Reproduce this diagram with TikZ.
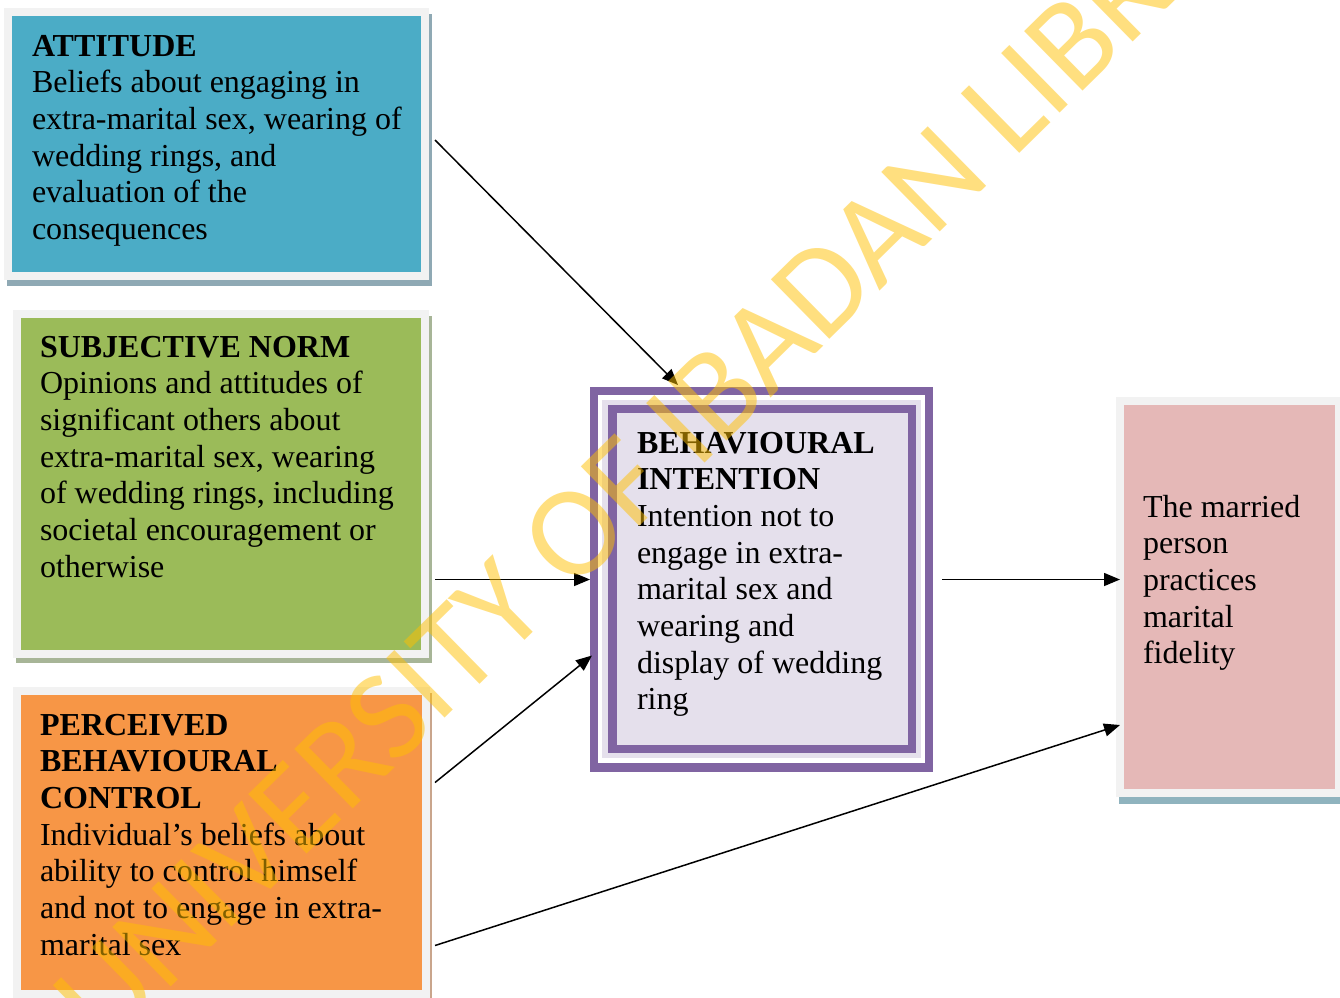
\documentclass[tikz,border=0pt]{standalone}
\usepackage{fontspec}
\setmainfont{Liberation Serif}
\newfontfamily\wmfont{Carlito}
\usetikzlibrary{arrows.meta,calc}
\definecolor{frame}{HTML}{F2F2F2}
\definecolor{cAtt}{HTML}{4BACC6}
\definecolor{cSn}{HTML}{9BBB59}
\definecolor{cPbc}{HTML}{F79646}
\definecolor{cPur}{HTML}{8064A2}
\definecolor{cLav}{HTML}{E5E0EC}
\definecolor{cOut}{HTML}{E5B8B7}
\definecolor{wm}{HTML}{FFC000}
\definecolor{shA}{HTML}{8FA9B4}
\definecolor{shB}{HTML}{A7B597}
\definecolor{shC}{HTML}{C9A58C}
\definecolor{shD}{HTML}{8FB3BE}
\begin{document}
\begin{tikzpicture}[x=1pt,y=-1pt,
  box/.style={draw=frame, line width=8pt, inner sep=0pt, outer sep=0pt, anchor=north west},
  txt/.style={anchor=north west, inner sep=0pt, outer sep=0pt, align=left,
    font=\fontsize{32}{36.7}\selectfont},
  arr/.style={line width=1.5pt, -{Triangle[length=16pt,width=13pt]}},
]
\useasboundingbox (0,0) rectangle (1340,997);
\fill[white] (0,0) rectangle (1340,997);

% shadows
\fill[shA] (7,14) rectangle (432,286);
\fill[shB] (16,316) rectangle (432,663);
\fill[shC] (16,693) rectangle (432,1000);
\fill[shD] (1119,403) rectangle (1344,804);

% boxes
\node[box, fill=cAtt, minimum width=417pt, minimum height=264pt] (att) at (8,12) {};
\node[box, fill=cSn, minimum width=408pt, minimum height=340pt] (sn) at (17,314) {};
\node[box, fill=cPbc, minimum width=409pt, minimum height=303pt] (pbc) at (17,691) {};
\node[box, fill=cOut, minimum width=219pt, minimum height=392pt] (out) at (1120,401) {};

\node[anchor=north west, fill=cPur, inner sep=0pt, outer sep=0pt,
      minimum width=343pt, minimum height=385pt] (bi) at (590,387) {};
\fill[white] (598,395) rectangle (925,763);
\fill[cLav] (602,400) rectangle (921,758);
\fill[cPur] (608,405) rectangle (916,753);
\fill[cLav] (617,413) rectangle (908,745);

% texts
\node[txt] (attT) at (32,30) {\rule{0pt}{26pt}\textbf{ATTITUDE}\\
Beliefs about engaging in\\
extra-marital sex, wearing of\\
wedding rings, and\\
evaluation of the\\
consequences};
\node[txt] (snT) at (40,331) {\rule{0pt}{26pt}\textbf{SUBJECTIVE NORM}\\
Opinions and attitudes of\\
significant others about\\
extra-marital sex, wearing\\
of wedding rings, including\\
societal encouragement or\\
otherwise};
\node[txt] (pbcT) at (40,709) {\rule{0pt}{26pt}\textbf{PERCEIVED}\\
\textbf{BEHAVIOURAL}\\
\textbf{CONTROL}\\
Individual’s beliefs about\\
ability to control himself\\
and not to engage in extra-\\
marital sex};
\node[txt] (biT) at (637,427) {\rule{0pt}{26pt}\textbf{BEHAVIOURAL}\\
\textbf{INTENTION}\\
Intention not to\\
engage in extra-\\
marital sex and\\
wearing and\\
display of wedding\\
ring};
\node[txt] (outT) at (1143,491) {\rule{0pt}{26pt}The married\\
person\\
practices\\
marital\\
fidelity};

% connectors
\draw[arr] ($(att.east)+(10,-4)$) -- ($(bi.north west)+(88,-2)$);
\draw[arr] ($(sn.east |- bi.west)+(10,0)$) -- (bi.west);
\draw[arr] ($(pbc.east)+(9,-60)$) -- ($(bi.west)+(2,76)$);
\draw[arr] ($(bi.east)+(9,0)$) -- (out.west |- bi.east);
\draw[arr] ($(pbc.east)+(9,103)$) -- ($(out.west)+(0,128)$);

% watermark
\node[rotate=44.5, text=wm, opacity=0.5, inner sep=0pt,
      font=\wmfont\fontsize{130}{130}\selectfont] (wmark) at (686,423)
      {UNIVERSITY OF IBADAN LIBRARY};
\end{tikzpicture}
\end{document}
